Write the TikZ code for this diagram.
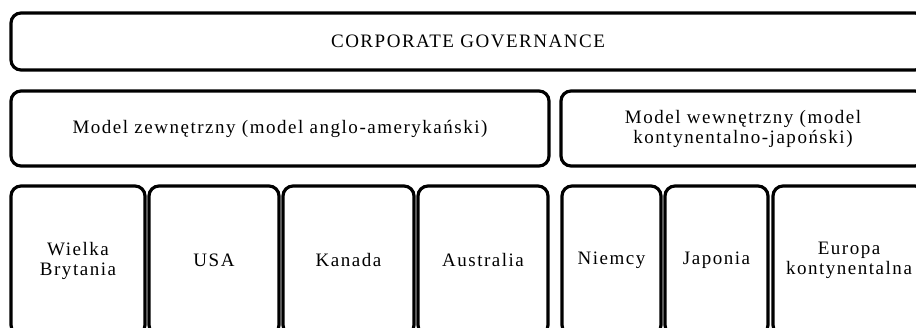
\documentclass[tikz,border=0pt]{standalone}
\usepackage{fontspec}
\setmainfont[LetterSpace=8]{Liberation Serif}
\begin{document}
\begin{tikzpicture}[x=1pt,y=-1pt,
  box/.style={draw=black, line width=3.2pt, rounded corners=10pt, fill=white,
    inner sep=0pt, align=center,
    font=\fontsize{19}{20}\selectfont}]
\useasboundingbox (0,0) rectangle (916,328);
\clip (0,0) rectangle (916,328);
% top level
\node[box, minimum width=914pt, minimum height=57pt] (cg) at (468,41.5) {CORPORATE GOVERNANCE};
% second level
\node[box, minimum width=538pt, minimum height=75pt] (ext) at (280,128.5) {Model zewnętrzny (model anglo-amerykański)};
\node[box, minimum width=364pt, minimum height=75pt] (int) at (743,128.5) {Model wewnętrzny (model\\kontynentalno-japoński)};
% countries
\node[box, minimum width=134pt, minimum height=149pt] (uk) at (78,260.5) {Wielka\\Brytania};
\node[box, minimum width=130pt, minimum height=149pt] (usa) at (214,260.5) {USA};
\node[box, minimum width=131pt, minimum height=149pt] (ca) at (348.5,260.5) {Kanada};
\node[box, minimum width=130pt, minimum height=149pt] (au) at (483,260.5) {Australia};
\node[box, minimum width=99pt, minimum height=149pt] (de) at (611.5,260.5) {Niemcy};
\node[box, minimum width=103pt, minimum height=149pt] (jp) at (716.5,260.5) {Japonia};
\node[box, minimum width=152pt, minimum height=149pt] (eu) at (849,260.5) {Europa\\kontynentalna};
\end{tikzpicture}
\end{document}
